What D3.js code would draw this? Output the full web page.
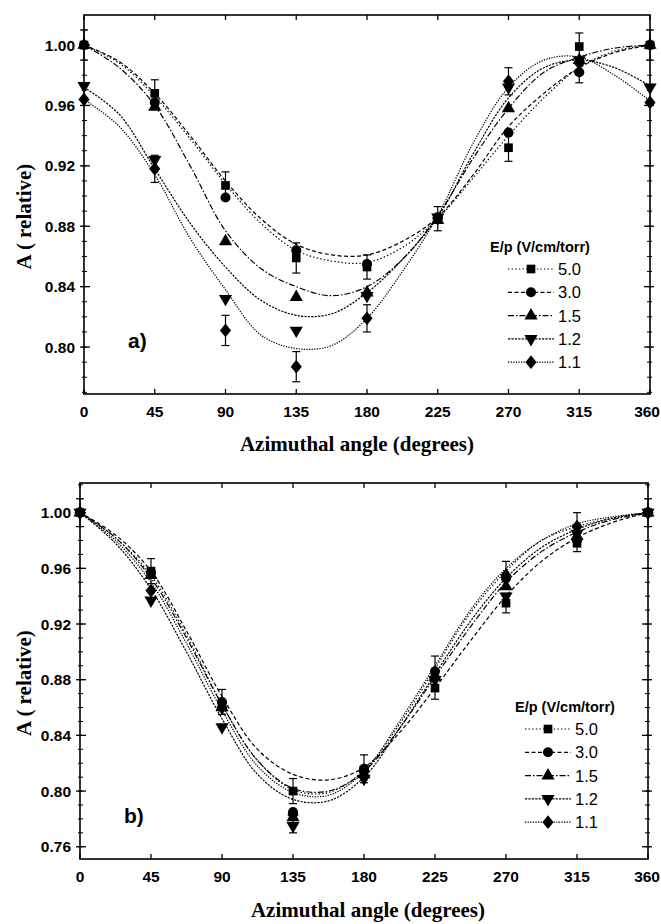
<!DOCTYPE html>
<html>
<head>
<meta charset="utf-8">
<script src="https://cdn.jsdelivr.net/npm/d3@7"></script>
<style>
  body { margin: 0; background: #fff; }
  svg text { fill: #000; }
</style>
</head>
<body>
<svg id="chart" width="661" height="924"></svg>
<script>
// measured angles (degrees)
const angles = [0, 45, 90, 135, 180, 225, 270, 315, 360];
const seriesNames = ["5.0", "3.0", "1.5", "1.2", "1.1"];

// panel a) measured points
const a50 = [1.000, 0.968, 0.907, 0.859, 0.853, 0.885, 0.932, 0.999, 1.000];
const a30 = [1.000, 0.962, 0.899, 0.864, 0.855, 0.886, 0.942, 0.982, 1.000];
const a15 = [1.000, 0.959, 0.870, 0.833, 0.836, 0.884, 0.958, 0.990, 1.000];
const a12 = [0.973, 0.924, 0.832, 0.811, 0.834, 0.886, 0.972, 0.990, 0.972];
const a11 = [0.964, 0.918, 0.811, 0.787, 0.819, 0.885, 0.976, 0.988, 0.962];

// panel b) measured points
const b50 = [1.000, 0.958, 0.862, 0.800, 0.815, 0.874, 0.935, 0.978, 1.000];
const b30 = [1.000, 0.957, 0.864, 0.785, 0.816, 0.886, 0.953, 0.980, 1.000];
const b15 = [1.000, 0.955, 0.860, 0.781, 0.812, 0.882, 0.947, 0.983, 1.000];
const b12 = [1.000, 0.937, 0.846, 0.775, 0.809, 0.880, 0.940, 0.985, 1.000];
const b11 = [1.000, 0.944, 0.860, 0.783, 0.814, 0.882, 0.955, 0.990, 1.000];

// fitted curves, every 22.5 degrees
const fitAngles = [0, 22.5, 45, 67.5, 90, 112.5, 135, 157.5, 180, 202.5, 225, 247.5, 270, 292.5, 315, 337.5, 360];
const aFit50 = [1.000, 0.988, 0.966, 0.938, 0.908, 0.882, 0.864, 0.857, 0.856, 0.866, 0.885, 0.912, 0.940, 0.965, 0.985, 0.996, 1.000];
const aFit30 = [1.000, 0.989, 0.968, 0.940, 0.910, 0.885, 0.868, 0.861, 0.861, 0.870, 0.886, 0.914, 0.946, 0.968, 0.985, 0.995, 1.000];
const aFit15 = [1.000, 0.985, 0.960, 0.920, 0.877, 0.852, 0.840, 0.834, 0.840, 0.858, 0.887, 0.925, 0.958, 0.982, 0.992, 0.998, 1.000];
const aFit12 = [0.972, 0.954, 0.918, 0.882, 0.853, 0.831, 0.821, 0.822, 0.836, 0.858, 0.886, 0.928, 0.965, 0.985, 0.990, 0.985, 0.973];
const aFit11 = [0.964, 0.946, 0.914, 0.872, 0.838, 0.808, 0.799, 0.801, 0.819, 0.850, 0.887, 0.935, 0.972, 0.990, 0.992, 0.980, 0.963];

const bFit50 = [1.000, 0.982, 0.955, 0.912, 0.862, 0.822, 0.801, 0.799, 0.815, 0.848, 0.888, 0.928, 0.958, 0.980, 0.990, 0.996, 1.000];
const bFit30 = [1.000, 0.984, 0.958, 0.915, 0.868, 0.830, 0.812, 0.808, 0.817, 0.842, 0.874, 0.908, 0.940, 0.965, 0.982, 0.993, 1.000];
const bFit15 = [1.000, 0.982, 0.953, 0.910, 0.862, 0.822, 0.802, 0.800, 0.814, 0.845, 0.882, 0.918, 0.950, 0.972, 0.986, 0.995, 1.000];
const bFit12 = [1.000, 0.978, 0.945, 0.900, 0.852, 0.812, 0.794, 0.793, 0.810, 0.845, 0.884, 0.922, 0.953, 0.975, 0.988, 0.996, 1.000];
const bFit11 = [1.000, 0.980, 0.950, 0.906, 0.858, 0.818, 0.799, 0.797, 0.814, 0.850, 0.890, 0.930, 0.960, 0.980, 0.992, 0.997, 1.000];

// error bars: [angle, value, half-width]
const aErr = [[0, 1.000, 0.010], [45, 0.968, 0.009], [45, 0.918, 0.009], [90, 0.907, 0.009],
  [90, 0.811, 0.010], [135, 0.859, 0.010], [135, 0.787, 0.010], [180, 0.853, 0.008],
  [180, 0.819, 0.009], [225, 0.885, 0.008], [270, 0.976, 0.009], [270, 0.932, 0.009],
  [315, 0.999, 0.009], [315, 0.982, 0.007], [360, 1.000, 0.010]];
const bErr = [[0, 1.000, 0.010], [45, 0.958, 0.009], [90, 0.864, 0.009], [135, 0.800, 0.009],
  [135, 0.775, 0.005], [180, 0.816, 0.010], [225, 0.886, 0.011], [225, 0.874, 0.008],
  [270, 0.955, 0.010], [270, 0.935, 0.007], [315, 0.990, 0.010], [315, 0.978, 0.006],
  [360, 1.000, 0.010]];

const xTicks = [0, 45, 90, 135, 180, 225, 270, 315, 360];
const aYTicks = [0.80, 0.84, 0.88, 0.92, 0.96, 1.00];
const bYTicks = [0.76, 0.80, 0.84, 0.88, 0.92, 0.96, 1.00];

// wide diamond, closer to the printed marker than d3.symbolDiamond
const wideDiamond = {
  draw(context, size) {
    const r = Math.sqrt(size / 2) * 1.05;
    context.moveTo(0, -r * 1.1);
    context.lineTo(r * 0.9, 0);
    context.lineTo(0, r * 1.1);
    context.lineTo(-r * 0.9, 0);
    context.closePath();
  }
};

// line style and marker per series
const dashes = ["1.4,2.2", "4,2.5", "6,2,1.5,2", "2.2,1.2", "1.3,1.3"];
const symbols = [d3.symbolSquare, d3.symbolCircle, d3.symbolTriangle, d3.symbolTriangle, wideDiamond];
const rotations = [0, 0, 0, 180, 0];
const symSizes = [75, 80, 75, 75, 70];

const svg = d3.select("#chart");

function drawPanel(p) {
  const x = d3.scaleLinear().domain([0, 360]).range([p.left, p.right]);
  const y = d3.scaleLinear().domain(p.yDomain).range([p.bottom, p.top]);
  const g = svg.append("g");

  // frame
  g.append("rect")
    .attr("x", p.left).attr("y", p.top)
    .attr("width", p.right - p.left).attr("height", p.bottom - p.top)
    .attr("fill", "none").attr("stroke", "#000").attr("stroke-width", 1.6);

  // x ticks (bottom + top, inward)
  xTicks.forEach(t => {
    g.append("line").attr("x1", x(t)).attr("x2", x(t))
      .attr("y1", p.bottom).attr("y2", p.bottom - 5).attr("stroke", "#000").attr("stroke-width", 1.3);
    g.append("line").attr("x1", x(t)).attr("x2", x(t))
      .attr("y1", p.top).attr("y2", p.top + 5).attr("stroke", "#000").attr("stroke-width", 1.3);
    // last label would run past the page edge, so pin it to the right
    const last = t === 360;
    g.append("text").attr("x", last ? 660 : x(t)).attr("y", p.bottom + 23)
      .attr("text-anchor", last ? "end" : "middle")
      .style("font", "600 15.5px 'Liberation Sans', Arial, sans-serif")
      .text(t);
  });

  // y ticks: majors cross the axis, minors every 0.01
  const minor = d3.range(Math.ceil(p.yDomain[0] * 100), Math.floor(p.yDomain[1] * 100) + 1).map(v => v / 100);
  minor.forEach(v => {
    [p.left, p.right].forEach((ax, i) => {
      const dir = i === 0 ? 1 : -1;
      g.append("line").attr("x1", ax - dir * 2).attr("x2", ax + dir * 3)
        .attr("y1", y(v)).attr("y2", y(v)).attr("stroke", "#000").attr("stroke-width", 1);
    });
  });
  p.yTicks.forEach(v => {
    [p.left, p.right].forEach((ax, i) => {
      const dir = i === 0 ? 1 : -1;
      g.append("line").attr("x1", ax - dir * 4).attr("x2", ax + dir * 6)
        .attr("y1", y(v)).attr("y2", y(v)).attr("stroke", "#000").attr("stroke-width", 1.3);
    });
    g.append("text").attr("x", p.left - 9).attr("y", y(v) + 5.5)
      .attr("text-anchor", "end")
      .style("font", "600 15.5px 'Liberation Sans', Arial, sans-serif")
      .text(v.toFixed(2));
  });

  // fitted curves
  const line = d3.line().x((d, i) => x(fitAngles[i])).y(d => y(d)).curve(d3.curveCatmullRom);
  p.fits.forEach((f, k) => {
    g.append("path").attr("d", line(f))
      .attr("fill", "none").attr("stroke", "#000").attr("stroke-width", 1.2)
      .attr("stroke-dasharray", dashes[k]);
  });

  // error bars
  p.err.forEach(([a, v, e]) => {
    g.append("line").attr("x1", x(a)).attr("x2", x(a)).attr("y1", y(v - e)).attr("y2", y(v + e))
      .attr("stroke", "#000").attr("stroke-width", 1.2);
    [v - e, v + e].forEach(c => g.append("line")
      .attr("x1", x(a) - 4).attr("x2", x(a) + 4).attr("y1", y(c)).attr("y2", y(c))
      .attr("stroke", "#000").attr("stroke-width", 1.2));
  });

  // markers
  p.points.forEach((s, k) => {
    g.selectAll(null).data(s).enter().append("path")
      .attr("d", d3.symbol().type(symbols[k]).size(symSizes[k]))
      .attr("transform", (d, i) => `translate(${x(angles[i])},${y(d)}) rotate(${rotations[k]})`)
      .attr("fill", "#000");
  });

  // legend
  const lg = p.legend;
  g.append("text").attr("x", lg.x).attr("y", lg.y)
    .style("font", "bold 14.5px 'Liberation Sans', Arial, sans-serif")
    .text("E/p (V/cm/torr)");
  seriesNames.forEach((name, k) => {
    const ly = lg.y + 17 + k * 23.3;
    g.append("line").attr("x1", lg.x + lg.dx).attr("x2", lg.x + lg.dx + 46)
      .attr("y1", ly).attr("y2", ly).attr("stroke", "#000").attr("stroke-width", 1.2)
      .attr("stroke-dasharray", dashes[k]);
    g.append("path").attr("d", d3.symbol().type(symbols[k]).size(symSizes[k])())
      .attr("transform", `translate(${lg.x + lg.dx + 23},${ly}) rotate(${rotations[k]})`)
      .attr("fill", "#000");
    g.append("text").attr("x", lg.x + lg.dx + 50).attr("y", ly + 6)
      .style("font", "16.5px 'Liberation Sans', Arial, sans-serif")
      .text(name);
  });

  // panel label
  g.append("text").attr("x", p.left + 44).attr("y", p.labelY)
    .style("font", "bold 21px 'Liberation Sans', Arial, sans-serif")
    .text(p.label);

  // axis titles
  g.append("text").attr("x", p.xTitleX).attr("y", p.xTitleY)
    .attr("text-anchor", "middle")
    .style("font", "bold 21px 'Liberation Serif', 'Times New Roman', serif")
    .text("Azimuthal angle (degrees)");
  g.append("text")
    .attr("transform", `translate(31,${(p.top + p.bottom) / 2 + 12}) rotate(-90)`)
    .attr("text-anchor", "middle")
    .style("font", "bold 21px 'Liberation Serif', 'Times New Roman', serif")
    .text("A ( relative)");
}

drawPanel({
  left: 84, right: 650, top: 15, bottom: 394,
  yDomain: [0.7689, 1.0199], yTicks: aYTicks,
  points: [a50, a30, a15, a12, a11],
  fits: [aFit50, aFit30, aFit15, aFit12, aFit11],
  err: aErr,
  legend: { x: 490, y: 252, dx: 18 },
  label: "a)", labelY: 348,
  xTitleX: 357, xTitleY: 451
});

drawPanel({
  left: 80, right: 648, top: 483, bottom: 859,
  yDomain: [0.7512, 1.0213], yTicks: bYTicks,
  points: [b50, b30, b15, b12, b11],
  fits: [bFit50, bFit30, bFit15, bFit12, bFit11],
  err: bErr,
  legend: { x: 515, y: 712, dx: 10 },
  label: "b)", labelY: 823,
  xTitleX: 368, xTitleY: 917
});
</script>
</body>
</html>
